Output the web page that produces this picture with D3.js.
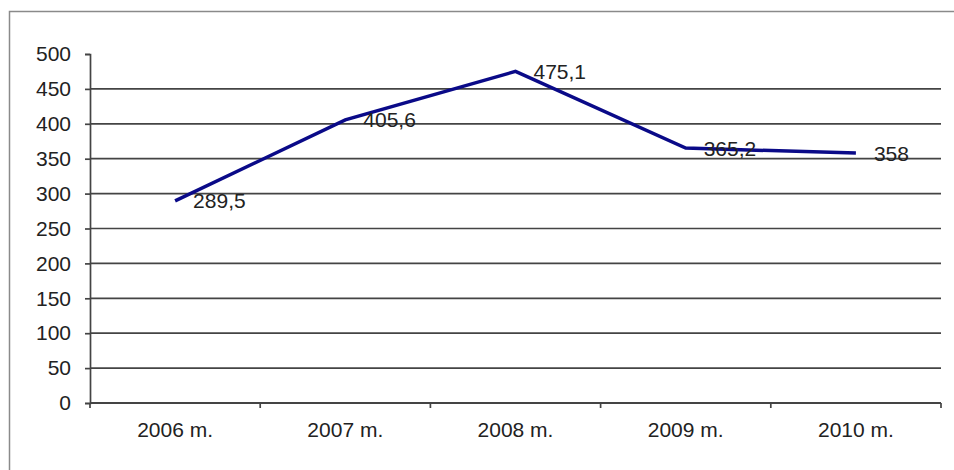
<!DOCTYPE html>
<html>
<head>
<meta charset="utf-8">
<script src="https://cdn.jsdelivr.net/npm/d3@7/dist/d3.min.js"></script>
<style>
  html, body { margin: 0; padding: 0; background: #fff; }
  svg { display: block; }
  text { font-family: "Liberation Sans", Arial, sans-serif; fill: #222; }
</style>
</head>
<body>
<svg id="chart" width="954" height="470"></svg>
<script>
// Yearly values
const years = ["2006 m.", "2007 m.", "2008 m.", "2009 m.", "2010 m."];
const values = [289.5, 405.6, 475.1, 365.2, 358];
const valueLabels = ["289,5", "405,6", "475,1", "365,2", "358"];
const yTicks = [0, 50, 100, 150, 200, 250, 300, 350, 400, 450, 500];

const svg = d3.select("#chart");
const plot = { left: 90, right: 941, top: 54, bottom: 403 };
const fontSize = "21px";

// Outer frame (runs off the right and bottom edges)
svg.append("rect")
  .attr("x", 9.5).attr("y", 11.5)
  .attr("width", 980).attr("height", 500)
  .attr("fill", "none").attr("stroke", "#8a8a8a").attr("stroke-width", 1.5);

const x = d3.scaleBand().domain(years).range([plot.left, plot.right]).padding(0);
const y = d3.scaleLinear().domain([0, 500]).range([plot.bottom, plot.top]);

// Horizontal gridlines (none at the top value)
svg.append("g")
  .selectAll("line")
  .data(yTicks.filter(t => t > 0 && t < 500))
  .join("line")
  .attr("x1", plot.left).attr("x2", plot.right)
  .attr("y1", d => y(d)).attr("y2", d => y(d))
  .attr("stroke", "#444").attr("stroke-width", 1.7);

// Y axis
const yAxis = svg.append("g")
  .attr("transform", `translate(${plot.left},0)`)
  .call(d3.axisLeft(y).tickValues(yTicks).tickSize(5).tickPadding(14).tickFormat(d3.format("d")));
yAxis.select(".domain").attr("stroke", "#444").attr("stroke-width", 1.7);
yAxis.selectAll(".tick line").attr("stroke", "#444").attr("stroke-width", 1.7);
yAxis.selectAll(".tick text")
  .style("font-size", fontSize)
  .style("font-family", "'Liberation Sans', Arial, sans-serif")
  .attr("fill", "#222");

// X axis with ticks between categories
const xAxisG = svg.append("g").attr("transform", `translate(0,${plot.bottom})`);
xAxisG.append("line")
  .attr("x1", plot.left).attr("x2", plot.right)
  .attr("y1", 0).attr("y2", 0)
  .attr("stroke", "#444").attr("stroke-width", 2);
const bounds = years.map(d => x(d)).concat([x(years[years.length - 1]) + x.bandwidth()]);
xAxisG.selectAll("line.tk")
  .data(bounds)
  .join("line")
  .attr("class", "tk")
  .attr("x1", d => d).attr("x2", d => d)
  .attr("y1", 0).attr("y2", 5)
  .attr("stroke", "#444").attr("stroke-width", 1.7);
xAxisG.selectAll("text")
  .data(years)
  .join("text")
  .attr("x", d => x(d) + x.bandwidth() / 2)
  .attr("y", 34)
  .attr("text-anchor", "middle")
  .style("font-size", fontSize)
  .text(d => d);

// Data line
const cx = (d, i) => x(years[i]) + x.bandwidth() / 2;
const line = d3.line().x((d, i) => cx(d, i)).y(d => y(d));
svg.append("path")
  .datum(values)
  .attr("d", line)
  .attr("fill", "none")
  .attr("stroke", "#0a0a88")
  .attr("stroke-width", 3.5)
  .attr("stroke-linejoin", "miter");

// Value labels to the right of each point
svg.append("g")
  .selectAll("text")
  .data(values)
  .join("text")
  .attr("x", (d, i) => cx(d, i) + 18)
  .attr("y", d => y(d))
  .attr("dy", "0.36em")
  .style("font-size", fontSize)
  .text((d, i) => valueLabels[i]);
</script>
</body>
</html>
